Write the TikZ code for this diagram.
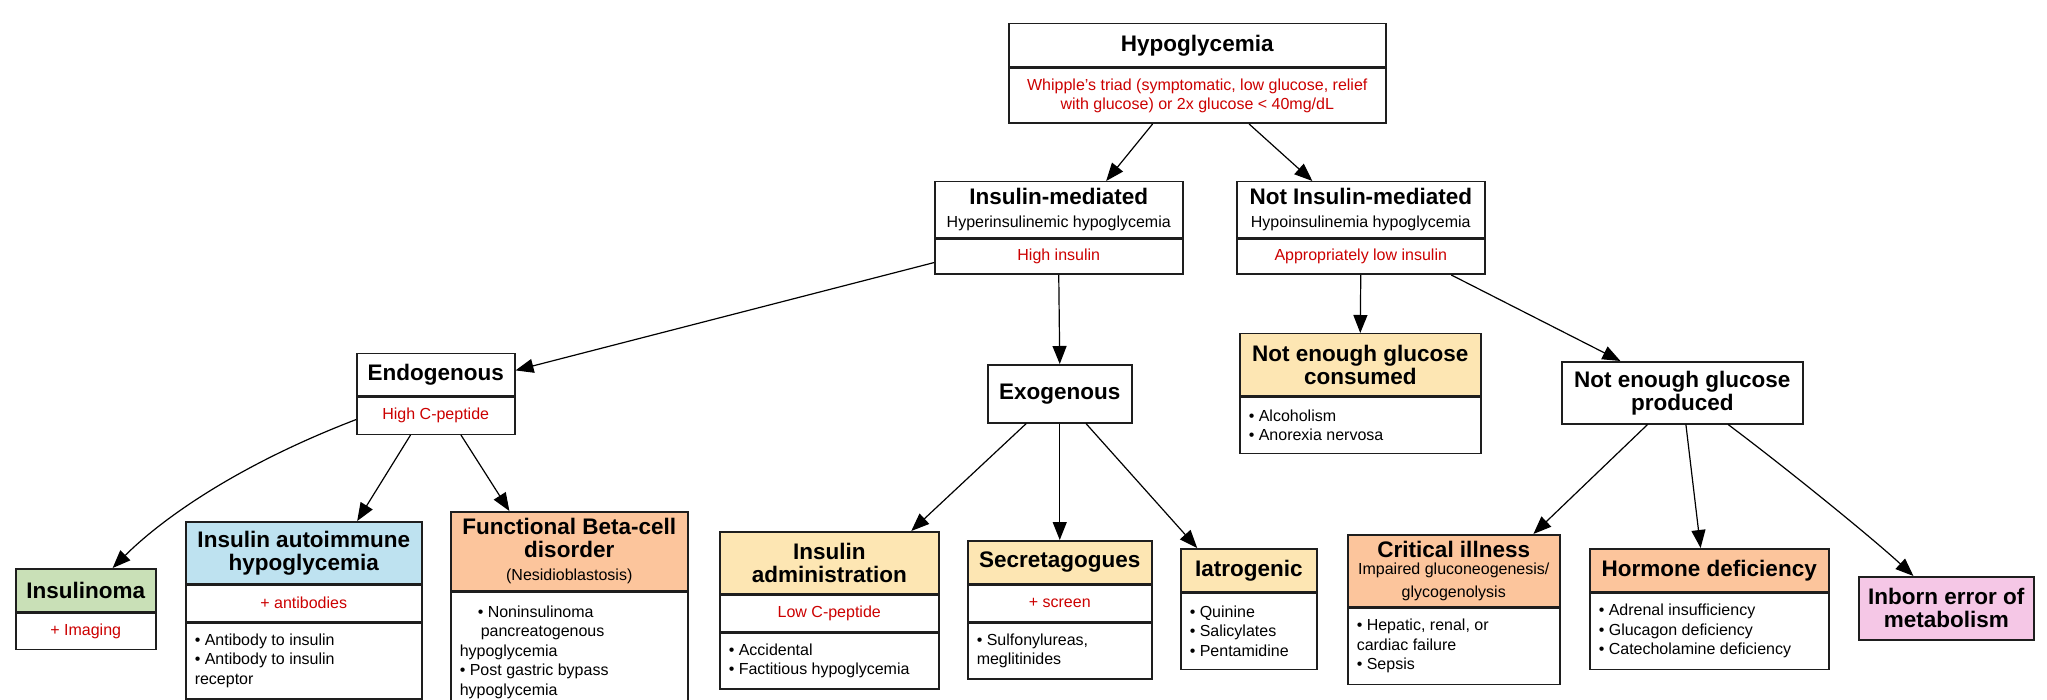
\documentclass[tikz,border=0pt]{standalone}
\usepackage{fontspec}
\setmainfont{Liberation Sans}
\usetikzlibrary{positioning,calc,arrows.meta}
\definecolor{redtxt}{RGB}{204,0,0}
\definecolor{boxgreen}{RGB}{201,224,183}
\definecolor{boxblue}{RGB}{190,226,240}
\definecolor{boxorange}{RGB}{252,197,156}
\definecolor{boxyellow}{RGB}{253,230,179}
\definecolor{boxpink}{RGB}{245,199,230}
\definecolor{edge}{RGB}{30,30,30}
\newcommand{\subline}{\par\fontsize{16}{17}\selectfont\mdseries}

\begin{document}
\begin{tikzpicture}[x=1pt,y=1pt,yscale=-1,
	box/.style={draw=edge,line width=1.5pt,inner sep=0pt,fill=white},
	wd/.code={\pgfmathsetmacro\boxtw{#1-8}\pgfkeysalso{minimum width=#1pt,text width=\boxtw pt}},
	lw/.code={\pgfmathsetmacro\boxtw{#1-18}\pgfkeysalso{minimum width=#1pt,text width=\boxtw pt}},
	hd/.style={box,align=flush center,font=\fontsize{22.5}{23}\selectfont\bfseries},
	rd/.style={box,align=flush center,text=redtxt,font=\fontsize{16}{19.5}\selectfont},
	ls/.style={box,align=flush left,font=\fontsize{16}{19.5}\selectfont},
	arr/.style={-{Triangle[length=18pt,width=14pt]},line width=1.2pt,draw=black}]
		\path[use as bounding box,fill=white] (0,0) rectangle (2047,700);
		% top
		\node[hd,wd=377,minimum height=43pt,anchor=north west] (0) at (1008,23) {Hypoglycemia};
		\node[rd,wd=377,minimum height=55pt,below=0pt of 0] (0a) {Whipple’s triad (symptomatic, low glucose, relief\\with glucose) or 2x glucose < 40mg/dL};
		% second row
		\node[hd,wd=248,minimum height=56pt,anchor=north west] (1) at (934,181) {Insulin-mediated\subline Hyperinsulinemic hypoglycemia};
		\node[rd,wd=248,minimum height=35pt,below=0pt of 1] (1a) {High insulin};
		\node[hd,wd=248,minimum height=56pt,anchor=north west] (2) at (1236,181) {Not Insulin-mediated\subline Hypoinsulinemia hypoglycemia};
		\node[rd,wd=248,minimum height=35pt,below=0pt of 2] (2a) {Appropriately low insulin};
		% third row
		\node[hd,wd=158,minimum height=42pt,anchor=north west] (3) at (356,353) {Endogenous};
		\node[rd,wd=158,minimum height=37pt,below=0pt of 3] (3a) {High C-peptide};
		\node[hd,wd=144,minimum height=58pt,anchor=north west] (4) at (987,364) {Exogenous};
		\node[hd,fill=boxyellow,wd=241,minimum height=62pt,anchor=north west] (5) at (1239,333) {Not enough glucose\\consumed};
		\node[ls,lw=241,minimum height=56pt,below=0pt of 5] (5a) {• Alcoholism\\• Anorexia nervosa};
		\node[hd,wd=241,minimum height=62pt,anchor=north west] (6) at (1561,361) {Not enough glucose\\produced};
		% bottom row
		\node[hd,fill=boxgreen,wd=140,minimum height=43pt,anchor=north west] (7) at (15,568) {Insulinoma};
		\node[rd,wd=140,minimum height=36pt,below=0pt of 7] (7a) {+ Imaging};
		\node[hd,fill=boxblue,wd=236,minimum height=62pt,anchor=north west] (8) at (185,521) {Insulin autoimmune\\hypoglycemia};
		\node[rd,wd=236,minimum height=36pt,below=0pt of 8] (8a) {+ antibodies};
		\node[ls,lw=236,minimum height=76pt,below=0pt of 8a] (8b) {• Antibody to insulin\\• Antibody to insulin\\receptor};
		\node[hd,fill=boxorange,wd=237,minimum height=79pt,anchor=north west] (9) at (450,511) {Functional Beta-cell\\disorder\subline (Nesidioblastosis)};
		\node[ls,lw=237,minimum height=120pt,below=0pt of 9] (9a) {\hspace*{18pt}• Noninsulinoma\\\hspace*{21pt}pancreatogenous\\hypoglycemia\\• Post gastric bypass\\hypoglycemia};
		\node[hd,fill=boxyellow,wd=219,minimum height=62pt,anchor=north west] (10) at (719,531) {Insulin\\administration};
		\node[rd,wd=219,minimum height=36pt,below=0pt of 10] (10a) {Low C-peptide};
		\node[ls,lw=219,minimum height=56pt,below=0pt of 10a] (10b) {• Accidental\\• Factitious hypoglycemia};
		\node[hd,fill=boxyellow,wd=184,minimum height=43pt,anchor=north west] (11) at (967,540) {Secretagogues};
		\node[rd,wd=184,minimum height=36pt,below=0pt of 11] (11a) {+ screen};
		\node[ls,lw=184,minimum height=56pt,below=0pt of 11a] (11b) {• Sulfonylureas,\\meglitinides};
		\node[hd,fill=boxyellow,wd=136,minimum height=43pt,anchor=north west] (12) at (1180,548) {Iatrogenic};
		\node[ls,lw=136,minimum height=76pt,below=0pt of 12] (12a) {• Quinine\\• Salicylates\\• Pentamidine};
		\node[hd,fill=boxorange,wd=212,minimum height=72pt,anchor=north west] (13) at (1347,534) {Critical illness\subline Impaired gluconeogenesis/\\glycogenolysis};
		\node[ls,lw=212,minimum height=76pt,below=0pt of 13] (13a) {• Hepatic, renal, or\\cardiac failure\\• Sepsis};
		\node[hd,fill=boxorange,wd=239,minimum height=43pt,anchor=north west] (14) at (1589,548) {Hormone deficiency};
		\node[ls,lw=239,minimum height=76pt,below=0pt of 14] (14a) {• Adrenal insufficiency\\• Glucagon deficiency\\• Catecholamine deficiency};
		\node[hd,fill=boxpink,wd=175,minimum height=63pt,anchor=north west] (15) at (1858,576) {Inborn error of\\metabolism};
		% connectors
		\draw[arr] ($(0a.south west)!0.382!(0a.south east)$) -- ($(1.north west)!0.69!(1.north east)$);
		\draw[arr] ($(0a.south west)!0.637!(0a.south east)$) -- ($(2.north west)!0.306!(2.north east)$);
		\draw[arr] ($(1a.north west)!0.66!(1a.south west)$) -- ($(3.north east)!0.4!(3.south east)$);
		\draw[arr] (1a.south) -- (4.north);
		\draw[arr] (2a.south) -- (5.north);
		\draw[arr] ($(2a.south west)!0.863!(2a.south east)$) -- ($(6.north west)!0.245!(6.north east)$);
		\draw[arr] ($(3a.north west)!0.6!(3a.south west)$) .. controls +(-125,48) and +(45,-45) .. ($(7.north west)!0.69!(7.north east)$);
		\draw[arr] ($(3a.south west)!0.342!(3a.south east)$) -- ($(8.north west)!0.725!(8.north east)$);
		\draw[arr] ($(3a.south west)!0.658!(3a.south east)$) -- ($(9.north west)!0.249!(9.north east)$);
		\draw[arr] ($(4.south west)!0.27!(4.south east)$) -- ($(10.north west)!0.872!(10.north east)$);
		\draw[arr] (4.south) -- (11.north);
		\draw[arr] ($(4.south west)!0.68!(4.south east)$) -- ($(12.north west)!0.125!(12.north east)$);
		\draw[arr] ($(6.south west)!0.357!(6.south east)$) -- ($(13.north west)!0.873!(13.north east)$);
		\draw[arr] ($(6.south west)!0.515!(6.south east)$) -- ($(14.north west)!0.464!(14.north east)$);
		\draw[arr] ($(6.south west)!0.689!(6.south east)$) .. controls +(60,45) and +(-40,-37) .. ($(15.north west)!0.314!(15.north east)$);
	\end{tikzpicture}
\end{document}
